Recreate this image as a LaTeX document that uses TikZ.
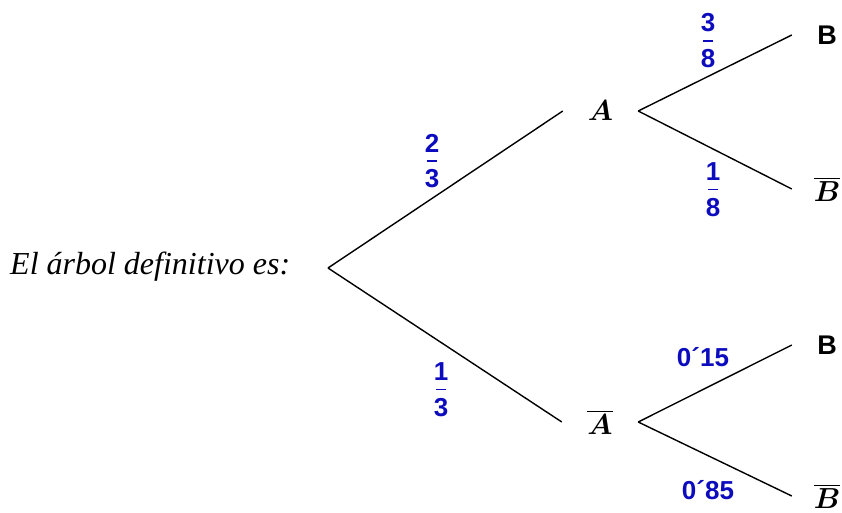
\documentclass[tikz,border=0pt]{standalone}
\usepackage{fix-cm}
\usepackage{amsmath}
\usepackage{fontspec}
\setmainfont{Liberation Serif}
\newfontfamily\lsans{Liberation Sans}
\definecolor{probblue}{RGB}{12,12,190}
\newcommand\frc[2]{\vbox{\offinterlineskip\halign{\hfil##\hfil\cr #1\cr\noalign{\kern8pt}\rule{10pt}{1.5pt}\cr\noalign{\kern8pt}#2\cr}}}
\tikzset{
  branch/.style={line width=1.4pt, black},
  prob/.style={font=\lsans\bfseries\fontsize{26}{26}\selectfont, text=probblue, inner sep=0pt},
  event/.style={font=\fontsize{29}{34}\selectfont, inner sep=0pt, minimum height=0pt},
  sansB/.style={font=\lsans\bfseries\fontsize{27}{27}\selectfont, inner sep=0pt, minimum height=0pt, minimum width=70pt},
  mathB/.style={font=\fontsize{29}{34}\selectfont, inner sep=0pt, minimum height=0pt, minimum width=70pt},
}
\begin{document}
\begin{tikzpicture}[x=1pt, y=-1pt]
\useasboundingbox (0,0) rectangle (842,513);
% intro text
\node[anchor=base west, inner sep=0pt, font=\fontsize{32}{38}\selectfont\itshape] (intro) at (10,274) {El árbol definitivo es:};
% root
\coordinate (root) at (328,268);
% first level
\node[event, minimum width=75pt] (A) at (600.5,111) {$\boldsymbol{A}$};
\node[event, minimum width=76pt] (Ab) at (600,422) {$\overline{\boldsymbol{A}}$};
% leaves
\node[sansB] (B1) at (827,35) {B};
\node[mathB] (Bb1) at (827,189) {$\overline{\boldsymbol{B}}$};
\node[sansB] (B2) at (827,345) {B};
\node[mathB] (Bb2) at (827,496) {$\overline{\boldsymbol{B}}$};
% branches
\draw[branch] (root) -- (A.west);
\draw[branch] (root) -- (Ab.west);
\draw[branch] (A.east) -- (B1.west);
\draw[branch] (A.east) -- (Bb1.west);
\draw[branch] (Ab.east) -- (B2.west);
\draw[branch] (Ab.east) -- (Bb2.west);
% probabilities
\node[prob] (p23) at (432,161) {\frc{2}{3}};
\node[prob] (p13) at (441,390) {\frc{1}{3}};
\node[prob] (p38) at (708,41) {\frc{3}{8}};
\node[prob] (p18) at (713,190) {\frc{1}{8}};
\node[prob] (p015) at (703,357) {0´15};
\node[prob] (p085) at (708,490) {0´85};
\end{tikzpicture}
\end{document}
